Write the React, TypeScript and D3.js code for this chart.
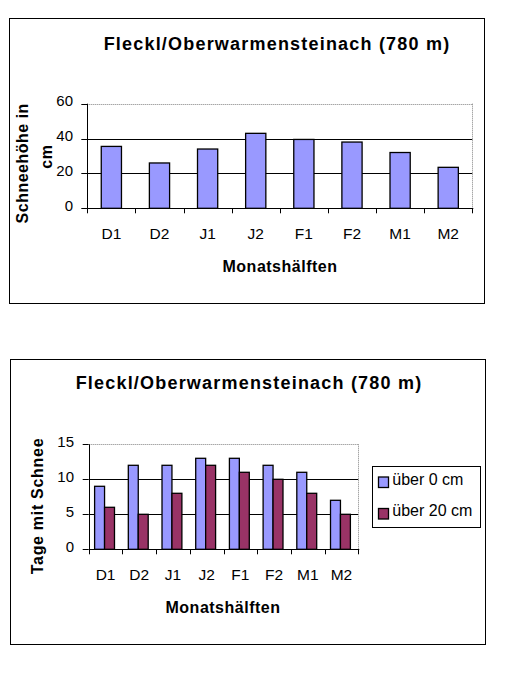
import React from "react";
import * as d3 from "d3";

const categories = ["D1", "D2", "J1", "J2", "F1", "F2", "M1", "M2"];
const snowDepth = [35.5, 26, 34, 43, 39.5, 38, 32, 23.5];
const depthTicks = [0, 20, 40, 60];
const daysOver0 = [9, 12, 12, 13, 13, 12, 11, 7];
const daysOver20 = [6, 5, 8, 12, 11, 10, 8, 5];
const dayTicks = [0, 5, 10, 15];
const seriesNames = ["über 0 cm", "über 20 cm"];
const chartTitle = "Fleckl/Oberwarmensteinach (780 m)";
const xTitle = "Monatshälften";
const yTitleTop = ["Schneehöhe in", "cm"];
const yTitleBottom = "Tage mit Schnee";
const colors = ["#9999FF", "#993366"];

const FONT = "'Liberation Sans', Arial, Helvetica, sans-serif";

function TopChart() {
  const left = 87.3, right = 472.3, top = 103.7, bottom = 208.3;
  const x = d3.scaleBand<string>().domain(categories).range([left, right]);
  const y = d3.scaleLinear().domain([0, 60]).range([bottom, top]);
  const bw = x.bandwidth() * 0.42;
  return (
    <g>
      <rect x={9.5} y={18.5} width={475} height={285} fill="#fff" stroke="#000" strokeWidth={1} />
      <text x={277} y={50} textAnchor="middle" fontSize={18} fontWeight="bold" letterSpacing={1.2} fontFamily={FONT}>{chartTitle}</text>
      {depthTicks.filter(t => t > 0 && t < 60).map(t => (
        <line key={t} x1={left} x2={right} y1={Math.round(y(t)) + 0.5} y2={Math.round(y(t)) + 0.5} stroke="#000" strokeWidth={1} />
      ))}
      <line x1={left} x2={right} y1={Math.round(y(60)) + 0.5} y2={Math.round(y(60)) + 0.5} stroke="#808080" strokeDasharray="1,1" />
      <line x1={Math.round(right) + 0.5} x2={Math.round(right) + 0.5} y1={top} y2={bottom} stroke="#808080" strokeDasharray="1,1" />
      {categories.map((c, i) => (
        <rect key={c} x={x(c)! + (x.bandwidth() - bw) / 2} y={y(snowDepth[i])} width={bw} height={bottom - y(snowDepth[i])}
          fill={colors[0]} stroke="#000" strokeWidth={1.3} />
      ))}
      <line x1={Math.round(left) + 0.5} x2={Math.round(left) + 0.5} y1={top} y2={bottom} stroke="#000" />
      <line x1={left} x2={right + 1} y1={Math.round(bottom) + 0.5} y2={Math.round(bottom) + 0.5} stroke="#000" />
      {depthTicks.map(t => (
        <g key={t}>
          <line x1={left - 6} x2={left} y1={Math.round(y(t)) + 0.5} y2={Math.round(y(t)) + 0.5} stroke="#000" />
          <text x={73} y={y(t) + 2.5} textAnchor="end" fontSize={15} fontFamily={FONT}>{t}</text>
        </g>
      ))}
      {categories.map(c => (
        <line key={c} x1={Math.round(x(c)!) + 0.5} x2={Math.round(x(c)!) + 0.5} y1={bottom} y2={bottom + 5} stroke="#000" />
      ))}
      <line x1={Math.round(right) + 0.5} x2={Math.round(right) + 0.5} y1={bottom} y2={bottom + 5} stroke="#000" />
      {categories.map(c => (
        <text key={c} x={x(c)! + x.bandwidth() / 2} y={239.3} textAnchor="middle" fontSize={15.5} fontFamily={FONT}>{c}</text>
      ))}
      <text x={280} y={271.7} textAnchor="middle" fontSize={16} fontWeight="bold" letterSpacing={0.5} fontFamily={FONT}>{xTitle}</text>
      <text transform="translate(28.3,163.3) rotate(-90)" textAnchor="middle" fontSize={16} fontWeight="bold" letterSpacing={0.5} fontFamily={FONT}>{yTitleTop[0]}</text>
      <text transform="translate(51.7,156.7) rotate(-90)" textAnchor="middle" fontSize={16} fontWeight="bold" letterSpacing={0.5} fontFamily={FONT}>{yTitleTop[1]}</text>
    </g>
  );
}

function BottomChart() {
  const left = 88.7, right = 358.3, top = 444.3, bottom = 549.3;
  const x = d3.scaleBand<string>().domain(categories).range([left, right]);
  const y = d3.scaleLinear().domain([0, 15]).range([bottom, top]);
  const bw = x.bandwidth() * 0.295;
  const series = [daysOver0, daysOver20];
  return (
    <g>
      <rect x={10.5} y={359.5} width={475} height={285} fill="#fff" stroke="#000" strokeWidth={1} />
      <text x={249} y={389.3} textAnchor="middle" fontSize={18} fontWeight="bold" letterSpacing={1.2} fontFamily={FONT}>{chartTitle}</text>
      {dayTicks.filter(t => t > 0 && t < 15).map(t => (
        <line key={t} x1={left} x2={right} y1={Math.round(y(t)) + 0.5} y2={Math.round(y(t)) + 0.5} stroke="#000" />
      ))}
      <line x1={left} x2={right} y1={Math.round(y(15)) + 0.5} y2={Math.round(y(15)) + 0.5} stroke="#808080" strokeDasharray="1,1" />
      <line x1={Math.round(right) + 0.5} x2={Math.round(right) + 0.5} y1={top} y2={bottom} stroke="#808080" strokeDasharray="1,1" />
      {series.map((s, si) =>
        categories.map((c, i) => (
          <rect key={c + si} x={x(c)! + x.bandwidth() / 2 - bw + si * bw - 1} y={y(s[i])} width={bw} height={bottom - y(s[i])}
            fill={colors[si]} stroke="#000" strokeWidth={1.3} />
        ))
      )}
      <line x1={Math.round(left) + 0.5} x2={Math.round(left) + 0.5} y1={top} y2={bottom} stroke="#000" />
      <line x1={left} x2={right + 1} y1={Math.round(bottom) + 0.5} y2={Math.round(bottom) + 0.5} stroke="#000" />
      {dayTicks.map(t => (
        <g key={t}>
          <line x1={left - 6} x2={left} y1={Math.round(y(t)) + 0.5} y2={Math.round(y(t)) + 0.5} stroke="#000" />
          <text x={74} y={y(t) + 2.5} textAnchor="end" fontSize={15} fontFamily={FONT}>{t}</text>
        </g>
      ))}
      {categories.map(c => (
        <line key={c} x1={Math.round(x(c)!) + 0.5} x2={Math.round(x(c)!) + 0.5} y1={bottom} y2={bottom + 5} stroke="#000" />
      ))}
      <line x1={Math.round(right) + 0.5} x2={Math.round(right) + 0.5} y1={bottom} y2={bottom + 5} stroke="#000" />
      {categories.map(c => (
        <text key={c} x={x(c)! + x.bandwidth() / 2} y={580} textAnchor="middle" fontSize={15.5} fontFamily={FONT}>{c}</text>
      ))}
      <text x={223} y={612.7} textAnchor="middle" fontSize={16} fontWeight="bold" letterSpacing={0.5} fontFamily={FONT}>{xTitle}</text>
      <text transform="translate(43,506) rotate(-90)" textAnchor="middle" fontSize={16} fontWeight="bold" letterSpacing={0.7} fontFamily={FONT}>{yTitleBottom}</text>
      <rect x={372.5} y={466.5} width={108} height={61} fill="#fff" stroke="#000" />
      {seriesNames.map((n, i) => (
        <g key={n}>
          <rect x={378.5} y={477 + i * 31.5} width={10} height={10.5} fill={colors[i]} stroke="#000" strokeWidth={1.3} />
          <text x={392.3} y={485 + i * 31} fontSize={16} fontFamily={FONT}>{n}</text>
        </g>
      ))}
    </g>
  );
}

export default function App() {
  return (
    <div style={{ position: "absolute", left: 0, top: 0 }}>
      <svg width={510} height={700} viewBox="0 0 510 700" style={{ display: "block", background: "#fff" }}>
        <rect x={0} y={0} width={510} height={700} fill="#fff" />
        <TopChart />
        <BottomChart />
      </svg>
    </div>
  );
}
